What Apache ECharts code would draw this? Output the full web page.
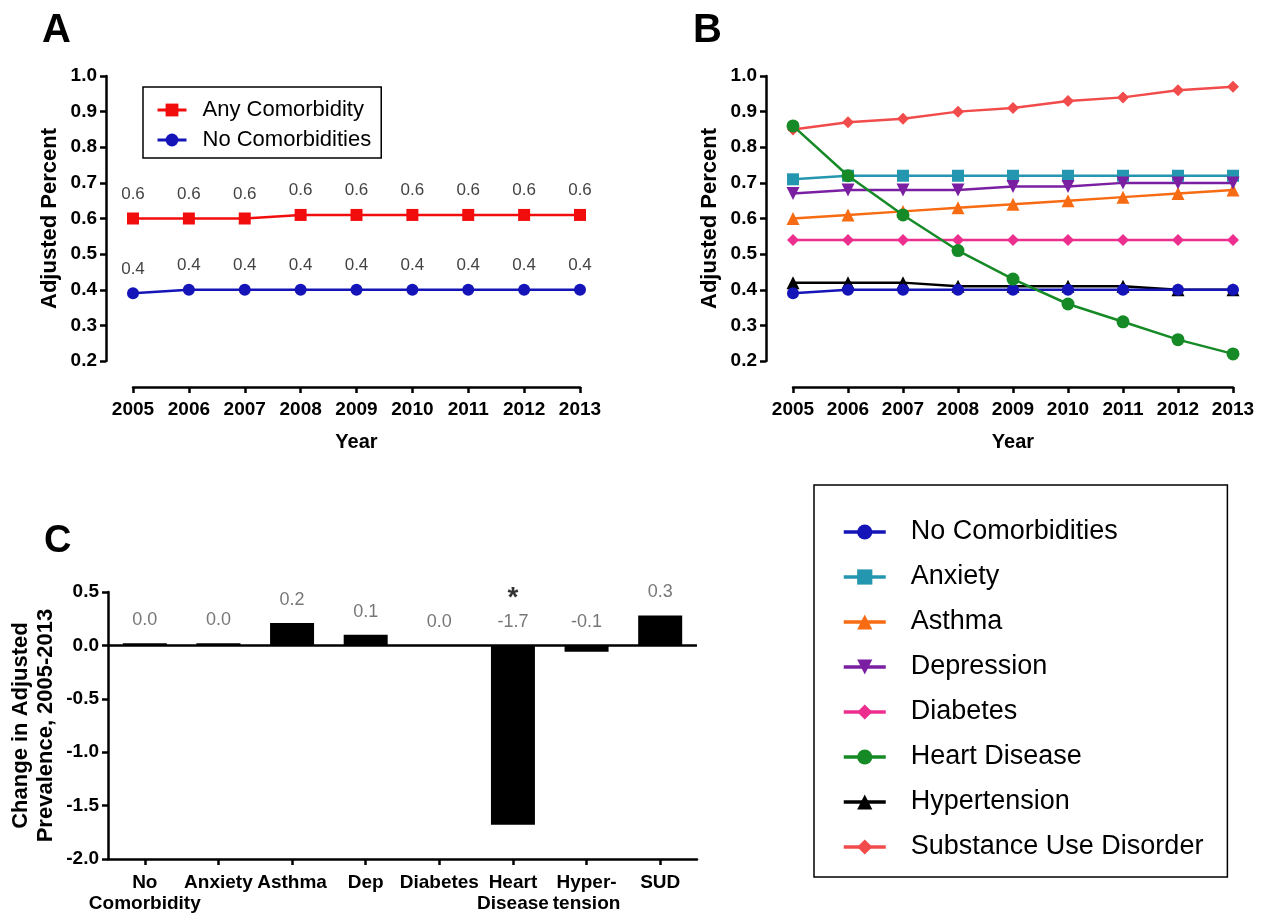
<!DOCTYPE html>
<html><head><meta charset="utf-8">
<script src="https://cdn.jsdelivr.net/npm/echarts@6/dist/echarts.min.js"></script>
<style>html,body{margin:0;padding:0;background:#fff}#c{width:1275px;height:914px}</style>
</head><body><div id="c"></div>
<script>
// ---------- DATA ----------
const years = ['2005','2006','2007','2008','2009','2010','2011','2012','2013'];
// Panel A
const anyComorbidity   = [0.60,0.60,0.60,0.61,0.61,0.61,0.61,0.61,0.61];
const noComorbidities  = [0.39,0.40,0.40,0.40,0.40,0.40,0.40,0.40,0.40];
// Panel B
const anxiety      = [0.71,0.72,0.72,0.72,0.72,0.72,0.72,0.72,0.72];
const asthma       = [0.60,0.61,0.62,0.63,0.64,0.65,0.66,0.67,0.68];
const depression   = [0.67,0.68,0.68,0.68,0.69,0.69,0.70,0.70,0.70];
const diabetes     = [0.54,0.54,0.54,0.54,0.54,0.54,0.54,0.54,0.54];
const heartDisease = [0.86,0.72,0.61,0.51,0.43,0.36,0.31,0.26,0.22];
const hypertension = [0.42,0.42,0.42,0.41,0.41,0.41,0.41,0.40,0.40];
const substanceUse = [0.85,0.87,0.88,0.90,0.91,0.93,0.94,0.96,0.97];
// Panel C
const changeCategories = ['No\nComorbidity','Anxiety','Asthma','Dep','Diabetes','Heart\nDisease','Hyper-\ntension','SUD'];
const changeValues     = [0.02,0.02,0.21,0.10,0.0,-1.68,-0.06,0.28];
const significance     = ['','','','','','*','',''];

// ---------- STYLE ----------
const F = "'Liberation Sans', Arial, sans-serif";
const AX = {color:'#000', width:2.5};
const C = {
  any:'#f20d0d', none:'#1414b8', anx:'#2496b0', ast:'#f76b12', dep:'#7a1fa2',
  dia:'#ec2f8e', hd:'#168a26', hyp:'#000000', sud:'#f24b4b'
};

function yAx(grid, name){
  return {
    gridIndex:grid, type:'value', min:0.2, max:1.0, interval:0.1, offset:27,
    axisLine:{show:true, lineStyle:AX}, axisTick:{show:true, length:6, lineStyle:AX},
    splitLine:{show:false},
    axisLabel:{fontFamily:F, fontSize:19, fontWeight:'bold', color:'#000', margin:9,
      formatter:v=>v.toFixed(1)},
    name:name, nameLocation:'middle', nameGap:45,
    nameTextStyle:{fontFamily:F, fontSize:22, fontWeight:'bold', color:'#000'}
  };
}
function xAx(grid){
  return {
    gridIndex:grid, type:'category', data:years, boundaryGap:false, offset:26,
    axisLine:{show:true, onZero:false, lineStyle:AX},
    axisTick:{show:true, length:6, lineStyle:AX},
    axisLabel:{fontFamily:F, fontSize:19, fontWeight:'bold', color:'#000', margin:13, interval:0},
    splitLine:{show:false},
    name:'Year', nameLocation:'middle', nameGap:45,
    nameTextStyle:{fontFamily:F, fontSize:20, fontWeight:'bold', color:'#000'}
  };
}
function lineS(name, data, color, symbol, size, gi, extra){
  return Object.assign({
    name:name, type:'line', data:data, xAxisIndex:gi, yAxisIndex:gi,
    symbol:symbol, symbolSize:size, showAllSymbol:true,
    lineStyle:{color:color, width:2.5}, itemStyle:{color:color},
    emphasis:{disabled:true}
  }, extra||{});
}
const labelA = {show:true, position:'top', distance:10, fontFamily:F, fontSize:17,
  color:'#444', formatter:p=>p.value.toFixed(1)};

const option = {
  animation:false,
  backgroundColor:'#fff',
  title:[
    {text:'A', left:42, top:11, padding:0, textStyle:{fontFamily:F, fontSize:40, fontWeight:'bold', color:'#000'}},
    {text:'B', left:693, top:11, padding:0, textStyle:{fontFamily:F, fontSize:40, fontWeight:'bold', color:'#000'}},
    {text:'C', left:44, top:523, padding:0, textStyle:{fontFamily:F, fontSize:38, fontWeight:'bold', color:'#000'}}
  ],
  grid:[
    {left:133, top:76, width:447, height:285, outerBoundsMode:'none', containLabel:false},
    {left:793, top:76, width:440, height:285, outerBoundsMode:'none', containLabel:false},
    {left:108, top:592, width:589, height:267, outerBoundsMode:'none', containLabel:false}
  ],
  legend:[
    {
      orient:'vertical', left:143, top:87, padding:[12,10,7,13], itemGap:8,
      itemWidth:29, itemHeight:16,
      borderColor:'#000', borderWidth:1.5, borderRadius:0,
      lineStyle:{width:3},
      data:['Any Comorbidity','No Comorbidities'],
      textStyle:{fontFamily:F, fontSize:22, color:'#000', lineHeight:22, padding:[0,0,0,11]},
      selectedMode:false
    },
    {
      orient:'vertical', left:814, top:485, padding:[33,24,16,28], itemGap:17,
      itemWidth:42, itemHeight:19,
      borderColor:'#000', borderWidth:1.5, borderRadius:0,
      lineStyle:{width:3.5},
      data:['No Comorbidities','Anxiety','Asthma','Depression','Diabetes','Heart Disease','Hypertension','Substance Use Disorder'],
      textStyle:{fontFamily:F, fontSize:27, color:'#000', lineHeight:28, padding:[0,0,0,20]},
      selectedMode:false
    }
  ],
  xAxis:[
    xAx(0), xAx(1),
    {
      gridIndex:2, type:'category', data:changeCategories, boundaryGap:true,
      axisLine:{show:true, onZero:false, lineStyle:AX},
      axisTick:{show:true, length:6, alignWithLabel:true, lineStyle:AX},
      axisLabel:{fontFamily:F, fontSize:19, fontWeight:'bold', color:'#000', margin:13, interval:0, lineHeight:21},
      splitLine:{show:false}
    }
  ],
  yAxis:[
    yAx(0,'Adjusted Percent'), yAx(1,'Adjusted Percent'),
    {
      gridIndex:2, type:'value', min:-2.0, max:0.5, interval:0.5,
      axisLine:{show:true, onZero:false, lineStyle:AX}, axisTick:{show:true, length:6, lineStyle:AX},
      splitLine:{show:false},
      axisLabel:{fontFamily:F, fontSize:19, fontWeight:'bold', color:'#000', margin:9,
        formatter:v=>v.toFixed(1)},
      name:'Change in Adjusted\nPrevalence, 2005-2013', nameLocation:'middle', nameGap:50,
      nameTextStyle:{fontFamily:F, fontSize:22, fontWeight:'bold', color:'#000', lineHeight:25, align:'center'}
    }
  ],
  series:[
    // Panel A
    lineS('Any Comorbidity', anyComorbidity, C.any, 'rect', 12, 0, {label:labelA}),
    lineS('No Comorbidities', noComorbidities, C.none, 'circle', 12, 0, {label:labelA}),
    // Panel B
    lineS('No Comorbidities', noComorbidities, C.none, 'circle', 12, 1, {z:9}),
    lineS('Anxiety', anxiety, C.anx, 'rect', 12, 1),
    lineS('Asthma', asthma, C.ast, 'triangle', 13, 1),
    lineS('Depression', depression, C.dep, 'triangle', 13, 1, {symbolRotate:180}),
    lineS('Diabetes', diabetes, C.dia, 'diamond', 12, 1),
    lineS('Heart Disease', heartDisease, C.hd, 'circle', 13, 1, {z:10}),
    lineS('Hypertension', hypertension, C.hyp, 'triangle', 13, 1, {z:3}),
    lineS('Substance Use Disorder', substanceUse, C.sud, 'diamond', 12, 1, {z:4}),
    // Panel C
    {
      name:'Change', type:'bar', xAxisIndex:2, yAxisIndex:2, data:changeValues, barWidth:44,
      itemStyle:{color:'#000'}, emphasis:{disabled:true},
      markLine:{silent:true, symbol:'none', label:{show:false},
        lineStyle:{color:'#000', width:2.5, type:'solid'}, data:[{yAxis:0}]}
    },
    {
      name:'ChangeLabels', type:'scatter', xAxisIndex:2, yAxisIndex:2,
      data:changeValues.map(v=>Math.max(v,0)), symbolSize:0, silent:true,
      label:{show:true, position:'top', distance:12,
        formatter:p=>{
          const i=p.dataIndex, t='{val|'+changeValues[i].toFixed(1)+'}';
          return significance[i] ? '{sig|'+significance[i]+'}\n'+t : t;
        },
        rich:{
          val:{fontFamily:F, fontSize:18, color:'#555', lineHeight:22},
          sig:{fontFamily:F, fontSize:28, fontWeight:'bold', color:'#000', lineHeight:26}
        }
      }
    }
  ]
};
const chart = echarts.init(document.getElementById('c'), null, {renderer:'canvas'});
chart.setOption(option);
</script>
</body></html>
